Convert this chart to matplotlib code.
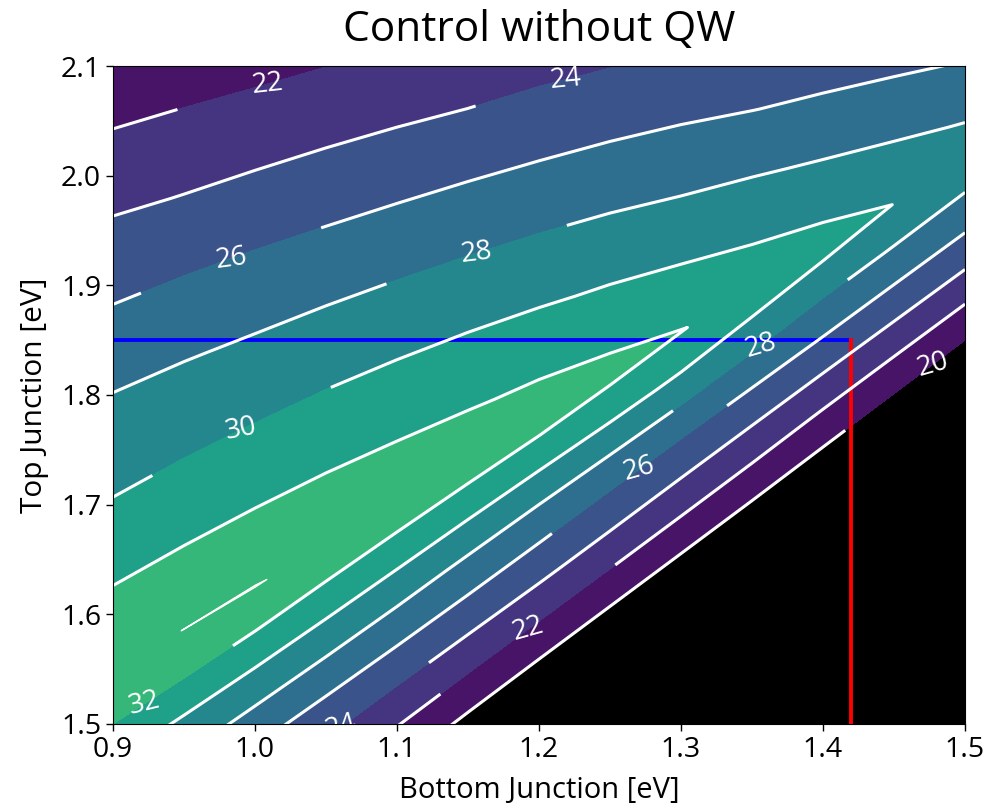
import numpy as np
import matplotlib
matplotlib.use("Agg")
import matplotlib.pyplot as plt

plt.rcParams['font.family'] = ['Open Sans', 'DejaVu Sans']

# ---- data ----
# bottom-junction band gaps (columns of the efficiency table)
bottom_gap = [0.90, 0.95, 1.00, 1.05, 1.10, 1.15, 1.20, 1.25, 1.30, 1.35, 1.40, 1.45, 1.50]
# top-junction gap where the two junction currents match (ridge of the map)
matched_top_gap = [1.5477, 1.5865, 1.6253, 1.6641, 1.7029, 1.7417, 1.7805, 1.8193,
                   1.8581, 1.8969, 1.9357, 1.9745, 2.0133]
# top-gap offsets from the current-matched gap (rows of the efficiency table)
offset_from_match = [-0.53, -0.42, -0.32, -0.23, -0.15, -0.09, -0.04, 0.00,
                     0.04, 0.09, 0.16, 0.24, 0.32, 0.40, 0.48, 0.57]
# efficiency [%] for each (offset row, bottom-gap column)
efficiency = [
    [5.7, 5.17, 5.0, 5.0, 5.0, 5.0, 5.0, 5.0, 5.0, 5.0, 5.0, 5.0, 5.0],
    [11.99, 11.44, 10.89, 10.33, 9.78, 9.23, 8.67, 8.12, 7.57, 7.02, 6.46, 5.91, 5.36],
    [17.69, 17.14, 16.59, 16.03, 15.48, 14.93, 14.37, 13.82, 13.27, 12.72, 12.16, 11.61, 11.06],
    [22.87, 22.41, 21.89, 21.28, 20.66, 20.06, 19.5, 18.95, 18.4, 17.85, 17.29, 16.74, 16.19],
    [26.63, 26.13, 25.74, 25.37, 24.98, 24.57, 24.13, 23.63, 23.09, 22.53, 21.92, 21.34, 20.76],
    [29.56, 29.32, 29.04, 28.71, 28.32, 27.86, 27.38, 26.92, 26.46, 26.02, 25.57, 25.08, 24.56],
    [32.44, 32.28, 32.04, 31.67, 31.3, 30.94, 30.61, 30.28, 29.85, 29.16, 28.41, 27.92, 27.48],
    [33.9, 34.004, 34.03, 33.85, 33.6, 33.35, 33.1, 32.6, 32.05, 31.5, 30.8, 29.98, 29.3],
    [32.94, 32.94, 32.87, 32.68, 32.41, 32.12, 31.79, 31.32, 30.69, 30.01, 29.32, 28.59, 27.82],
    [31.72, 31.64, 31.49, 31.31, 31.05, 30.72, 30.27, 29.73, 29.06, 28.39, 27.63, 26.84, 26.04],
    [29.98, 29.9, 29.73, 29.51, 29.18, 28.74, 28.21, 27.59, 26.84, 26.07, 25.33, 24.56, 23.73],
    [28.36, 28.1, 27.77, 27.4, 26.93, 26.39, 25.79, 25.14, 24.48, 23.71, 22.8, 21.93, 21.07],
    [26.37, 26.06, 25.66, 25.15, 24.59, 23.99, 23.44, 22.79, 21.9, 21.13, 20.13, 19.27, 18.4],
    [24.39, 23.91, 23.43, 22.92, 22.38, 21.78, 21.09, 20.36, 19.23, 18.55, 17.5, 16.6, 15.7],
    [22.38, 21.89, 21.35, 20.82, 20.2, 19.56, 18.7, 17.94, 16.57, 15.97, 14.8, 13.93, 13.1],
    [20.1, 19.6, 19.0, 18.45, 17.8, 17.06, 16.1, 15.2, 13.57, 13.1, 11.8, 10.93, 10.1],
]
fill_levels = [20, 22, 24, 26, 28, 30, 32, 34, 36, 38]
line_levels = [20, 22, 24, 26, 28, 30, 32, 34]
# chosen design point
design_bottom = 1.42
design_top = 1.85
# contour label anchor points (bottom gap, top gap)
label_points = [(1.009, 2.084), (1.219, 2.086), (0.983, 1.926), (1.156, 1.931),
                (0.990, 1.777), (1.356, 1.844), (1.271, 1.729), (1.192, 1.588),
                (1.060, 1.508), (1.477, 1.829), (0.922, 1.525)]

# ---- build grid ----
bg = np.array(bottom_gap)
mt = np.array(matched_top_gap)
off = np.array(offset_from_match)
X = np.tile(bg, (len(off), 1))
Y = mt[None, :] + off[:, None]
Z = np.array(efficiency)

fig = plt.figure(figsize=(9.86, 8.09), dpi=100)
ax = fig.add_axes([0.1146, 0.1051, 0.8641, 0.8133])
ax.set_facecolor('black')

ax.contourf(X, Y, Z, levels=fill_levels, cmap='viridis', vmin=20, vmax=39.5)
ax.plot([0.9, design_bottom], [design_top, design_top], color='blue', lw=2.8)
ax.plot([design_bottom, design_bottom], [1.5, design_top], color='red', lw=2.8)
cs = ax.contour(X, Y, Z, levels=line_levels, colors='white',
                linewidths=[2.2] * 7 + [1.0])
ax.clabel(cs, manual=label_points, inline=True, inline_spacing=75,
          fontsize=20, colors='white', fmt=lambda v: f'{v:.0f}')

ax.set_xlim(0.9, 1.5)
ax.set_ylim(1.5, 2.1)
ax.set_xticks([0.9, 1.0, 1.1, 1.2, 1.3, 1.4, 1.5])
ax.set_yticks([1.5, 1.6, 1.7, 1.8, 1.9, 2.0, 2.1])
ax.tick_params(labelsize=20.5, length=5, width=1)
ax.set_xlabel('Bottom Junction [eV]', fontsize=21, labelpad=9)
ax.set_ylabel('Top Junction [eV]', fontsize=21.5, labelpad=9)
ax.set_title('Control without QW', fontsize=30.5, pad=18)

fig.savefig('out.png', dpi=100)
